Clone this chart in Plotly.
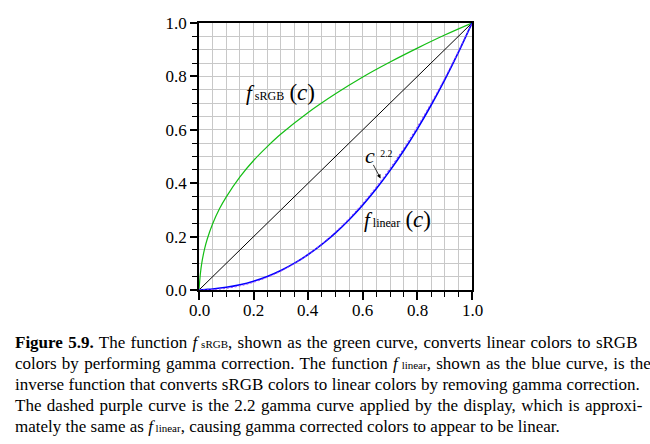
import plotly.graph_objects as go

# sample points
c_vals = [0.0, 0.002, 0.005, 0.01, 0.02, 0.03, 0.05, 0.075, 0.1, 0.15, 0.2, 0.25, 0.3,
          0.4, 0.5, 0.6, 0.7, 0.8, 0.9, 1.0]
srgb_vals = [0.0, 0.026, 0.061, 0.100, 0.152, 0.190, 0.248, 0.304, 0.349, 0.424, 0.485,
             0.537, 0.584, 0.665, 0.735, 0.798, 0.854, 0.906, 0.955, 1.0]

x_lin = [0.0, 0.025, 0.05, 0.1, 0.15, 0.2, 0.25, 0.3, 0.35, 0.4, 0.45, 0.5, 0.55, 0.6,
         0.65, 0.7, 0.75, 0.8, 0.85, 0.9, 0.95, 1.0]
linear_vals = [0.0, 0.0019, 0.0039, 0.0100, 0.0196, 0.0331, 0.0509, 0.0732, 0.1005, 0.1329,
               0.1707, 0.2140, 0.2633, 0.3185, 0.3800, 0.4480, 0.5225, 0.6038, 0.6920,
               0.7873, 0.8900, 1.0]
gamma_vals = [0.0, 0.0003, 0.0014, 0.0063, 0.0154, 0.0290, 0.0474, 0.0707, 0.0993, 0.1332,
              0.1726, 0.2176, 0.2684, 0.3250, 0.3876, 0.4563, 0.5311, 0.6121, 0.6994,
              0.7931, 0.8933, 1.0]

diag_x = [0.0, 1.0]
diag_y = [0.0, 1.0]

tick_vals = [0.0, 0.2, 0.4, 0.6, 0.8, 1.0]
tick_text = ["0.0", "0.2", "0.4", "0.6", "0.8", "1.0"]

SUB = "<span style='font-size:11px'> {}</span>"
caption_lines = [
    "<b>Figure 5.9.</b> The function <i>f</i>" + SUB.format("sRGB") + ", shown as the green curve, converts linear colors to sRGB",
    "colors by performing gamma correction. The function <i>f</i>" + SUB.format("linear") + ", shown as the blue curve, is the",
    "inverse function that converts sRGB colors to linear colors by removing gamma correction.",
    "The dashed purple curve is the 2.2 gamma curve applied by the display, which is approxi-",
    "mately the same as <i>f</i>" + SUB.format("linear") + ", causing gamma corrected colors to appear to be linear.",
]
caption_wordspacing = [1.1, 1.05, 0.25, 1.15, 0.0]

FONT = "Liberation Serif, Times New Roman, serif"
W, H = 650, 444
ML, MR, MT, MB = 199, 178, 23, 154
PW = W - ML - MR
PH = H - MT - MB

fig = go.Figure()
fig.add_trace(go.Scatter(x=diag_x, y=diag_y, mode="lines",
                         line=dict(color="black", width=1), showlegend=False))
fig.add_trace(go.Scatter(x=c_vals, y=srgb_vals, mode="lines", line_shape="spline",
                         line=dict(color="rgb(20,190,20)", width=1.2), showlegend=False))
fig.add_trace(go.Scatter(x=x_lin, y=linear_vals, mode="lines", line_shape="spline",
                         line=dict(color="rgb(0,0,255)", width=1.6), showlegend=False))
fig.add_trace(go.Scatter(x=x_lin, y=gamma_vals, mode="lines", line_shape="spline",
                         line=dict(color="rgb(150,70,255)", width=1, dash="2px,2px"),
                         showlegend=False))

grid = "rgb(200,200,200)"
axis_common = dict(range=[0, 1], showline=True, linecolor="black", linewidth=1.5,
                   mirror=True, tickmode="array", tickvals=tick_vals,
                   ticks="outside", tickcolor="black", tickwidth=1.5,
                   showgrid=True, gridcolor=grid, gridwidth=1, zeroline=False,
                   tickfont=dict(family=FONT, size=17, color="black"),
                   minor=dict(tickmode="linear", dtick=0.05, tick0=0, ticks="outside",
                              ticklen=5, tickcolor="black", tickwidth=1.2, showgrid=True,
                              gridcolor=grid, gridwidth=1),
                   fixedrange=True)

fig.update_layout(
    width=W, height=H,
    margin=dict(l=ML, r=MR, t=MT, b=MB, pad=0),
    paper_bgcolor="white", plot_bgcolor="white",
    xaxis=dict(axis_common, ticklen=8, showticklabels=False),
    yaxis=dict(axis_common, ticklen=7, ticktext=tick_text),
    font=dict(family=FONT, color="black"),
)

# x tick labels, placed on the x scale below the axis
for v, t in zip(tick_vals, tick_text):
    fig.add_annotation(x=v, y=0, xref="x", yref="paper", text=t, showarrow=False,
                       xanchor="center", yanchor="middle", yshift=-20,
                       font=dict(family=FONT, size=17, color="black"))

# curve labels
fig.add_annotation(x=0.3, y=0.74, xref="x", yref="y", showarrow=False,
                   text="<i>f</i><span style='font-size:12px'> sRGB</span> <span style='font-size:23px'>(<i>c</i>)</span>",
                   font=dict(family=FONT, size=21, color="black"))
fig.add_annotation(x=0.727, y=0.264, xref="x", yref="y", showarrow=False,
                   text="<i>f</i><span style='font-size:12px'> linear</span> <span style='font-size:23px'>(<i>c</i>)</span>",
                   font=dict(family=FONT, size=21, color="black"))
fig.add_annotation(x=0.66, y=0.505, xref="x", yref="y", showarrow=False,
                   text="<i>c</i> <span style='font-size:14px'><sup>2.2</sup></span>",
                   font=dict(family=FONT, size=22, color="black"))
fig.add_annotation(x=0.665, y=0.418, xref="x", yref="y", text="", showarrow=True,
                   ax=-8, ay=-15, arrowhead=2, arrowsize=1, arrowwidth=0.8,
                   arrowcolor="black")

# caption
line_h = 21.2
y0 = 342
for i, t in enumerate(caption_lines):
    ypix = y0 + i * line_h
    ws = caption_wordspacing[i]
    fig.add_annotation(xref="paper", yref="paper",
                       x=(13 - ML) / PW, y=1 - (ypix - MT) / PH,
                       xanchor="left", yanchor="middle", showarrow=False, align="left",
                       text=f"<span style='word-spacing:{ws}px'>{t}</span>",
                       font=dict(family=FONT, size=17, color="black"))

fig.write_html("out.html")
